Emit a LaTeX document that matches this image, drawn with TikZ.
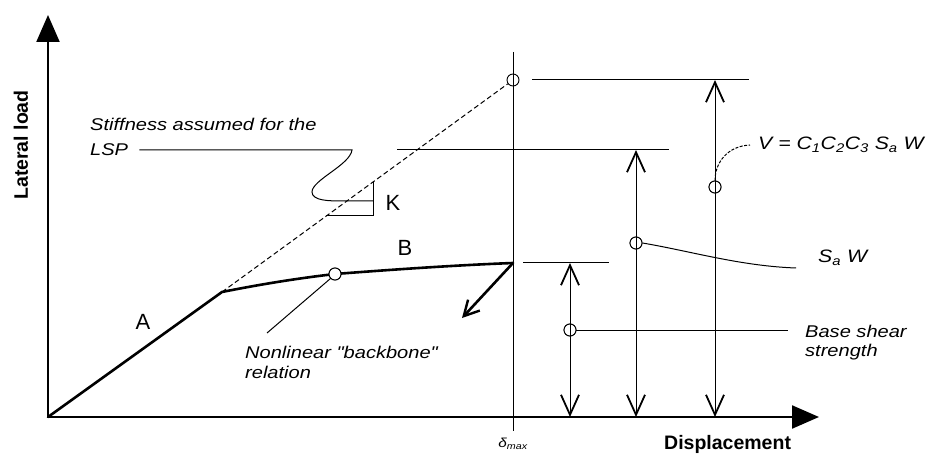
\documentclass[tikz,border=0pt]{standalone}
\usepackage{fontspec}
\setmainfont{Liberation Sans}
\newfontfamily\wfont[FakeStretch=1.18]{Liberation Sans}
\usetikzlibrary{arrows.meta}
\begin{document}
\begin{tikzpicture}[x=1pt,y=-1pt,
  thinline/.style={line width=1pt},
  curveline/.style={line width=2.6pt, line join=round, line cap=round},
  axisline/.style={line width=2.2pt,-{Triangle[length=27pt,width=23pt]}},
  dimarrow/.style={line width=1pt,{Straight Barb[length=20pt,width=18pt,line width=1.8pt]}-{Straight Barb[length=20pt,width=18pt,line width=1.8pt]}},
  ringpt/.style={circle,draw,line width=0.9pt,minimum size=12pt,inner sep=0pt},
  lbl/.style={font=\wfont\itshape\fontsize{17}{20}\selectfont, inner sep=0pt, anchor=west},
  letter/.style={font=\fontsize{22}{24}\selectfont, inner sep=0pt},
  axlbl/.style={font=\bfseries\fontsize{19.5}{21}\selectfont, inner sep=0pt}]
\useasboundingbox (0,0) rectangle (934,454);

% key points
\coordinate (O) at (48,417);
\coordinate (ytop) at (48,15);
\coordinate (xend) at (819,417);
\coordinate (knee) at (222,292);
\coordinate (Bend) at (513,263);
\coordinate (dtop) at (513,52);
\coordinate (dbot) at (513,431);

% circles
\node[ringpt] (c0) at (513,80) {};
\node[ringpt] (cB) at (335,274) {};
\node[ringpt] (c1) at (570,330) {};
\node[ringpt] (c2) at (636,243) {};
\node[ringpt] (c3) at (715,187) {};

% axes
\draw[axisline] (O) -- (ytop);
\draw[axisline] (O) -- (xend);

% delta max line
\draw[thinline] (dtop) -- (dbot);

% elastic dashed line
\draw[line width=1pt, dash pattern=on 5pt off 3pt] (knee) -- (c0);

% backbone curve
\draw[curveline] (O) -- (knee) .. controls (262,284) and (300,278) .. (cB.center)
   .. controls (400,269) and (460,265) .. (Bend);
\node[ringpt, fill=white] at (cB) {};

% degradation arrow
\coordinate (darr) at (462,318);
\draw[line width=2.6pt, -{Straight Barb[length=15pt,width=16pt,line width=2.4pt]}] (Bend) -- (darr);

% stiffness triangle
\coordinate (t1) at (326,216);
\coordinate (t2) at (373,216);
\coordinate (t3) at (373,182);
\draw[thinline] (t1) -- (t2) -- (t3);

% horizontal level lines
\coordinate (h3a) at (532,80);  \coordinate (h3b) at (749,80);
\coordinate (h2a) at (397,150); \coordinate (h2b) at (669,150);
\coordinate (h1a) at (523,263); \coordinate (h1b) at (609,263);
\draw[thinline] (h3a) -- (h3b);
\draw[thinline] (h2a) -- (h2b);
\draw[thinline] (h1a) -- (h1b);

% double arrows
\coordinate (a1t) at (570,263); \coordinate (a1b) at (570,417);
\coordinate (a2t) at (636,150); \coordinate (a2b) at (636,417);
\coordinate (a3t) at (715,80);  \coordinate (a3b) at (715,417);
\draw[dimarrow] (a1t) -- (a1b);
\draw[dimarrow] (a2t) -- (a2b);
\draw[dimarrow] (a3t) -- (a3b);
\node[ringpt, fill=white] at (c1) {};
\node[ringpt, fill=white] at (c2) {};
\node[ringpt, fill=white] at (c3) {};
\draw[thinline] (c1.north) -- (c1.south);
\draw[thinline] (c2.north) -- (c2.south);
\draw[thinline] (c3.north) -- (c3.south);

% labels
\node[axlbl, rotate=90] (ylab) at (21,145) {Lateral load};
\node[axlbl, anchor=west] (xlab) at (664,444) {Displacement};
\node[font=\wfont\itshape\fontsize{13}{14}\selectfont, inner sep=0pt] (dmax) at (513,444) {δ\textsubscript{max}};
\node[letter] (A) at (143,322) {A};
\node[letter] (B) at (405,248) {B};
\node[letter] (K) at (393,203) {K};

\node[lbl] (stiff) at (90,124) {Stiffness assumed for the};
\node[lbl] (lsp) at (90,150) {LSP};
\node[lbl] (nonlin) at (245,352) {Nonlinear "backbone"};
\node[lbl] (rel) at (245,372) {relation};
\node[lbl] (base) at (805,331) {Base shear};
\node[lbl] (str) at (805,352) {strength};
\node[lbl, font=\wfont\itshape\fontsize{18}{20}\selectfont] (saw) at (818,258) {S\textsubscript{a} W};
\node[lbl, font=\wfont\itshape\fontsize{18}{20}\selectfont] (vlab) at (758,145) {V = C\textsubscript{1}C\textsubscript{2}C\textsubscript{3} S\textsubscript{a} W};

% leaders
\coordinate (lspend) at (352,150);
\draw[thinline] ([xshift=11pt]lsp.east) -- (lspend)
  .. controls (350,165) and (312,180) .. (312,192)
  .. controls (312,201) and (330,201) .. (343,201) -- (373,201);
\coordinate (nl) at (267,333);
\draw[thinline] (cB.south west) -- (nl);
\coordinate (bs) at (788,330);
\draw[thinline] (c1.east) -- (bs);
\coordinate (sw) at (796,268);
\draw[thinline] (c2.east) .. controls (690,251) and (740,266) .. (sw);
\coordinate (vl) at (750,145);
\draw[thinline, dash pattern=on 3pt off 1.5pt] (c3.north) .. controls (715,162) and (728,146) .. (vl);
\end{tikzpicture}
\end{document}
